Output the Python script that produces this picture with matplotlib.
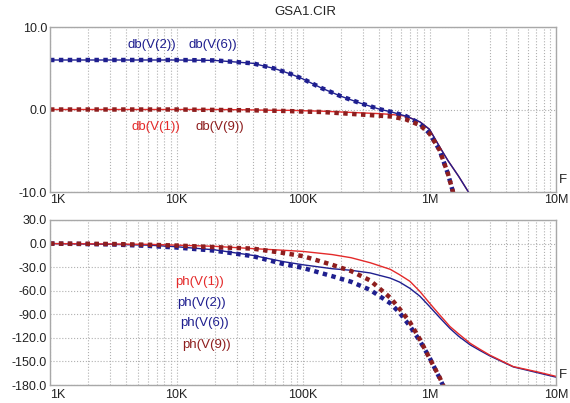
#!/usr/bin/env python3
import matplotlib
matplotlib.use("Agg")
import matplotlib.pyplot as plt
from matplotlib.ticker import LogLocator, NullFormatter

FONT = "Liberation Sans"
NAVY = "#1f1f8f"
RED = "#e42a2a"
MAROON = "#8e1e1e"
GRID = "#b0b0b0"

# magnitude plot (dB)
freq_db = [1e3, 3e3, 1e4, 2e4, 4e4, 6e4, 8e4, 1e5, 1.4e5, 2e5, 2.8e5,
           4e5, 5e5, 6.5e5, 8.4e5, 1e6, 1.2e6, 1.4e6, 1.7e6, 2.05e6, 2.5e6]
db_v1 = [0, 0, 0, 0, -0.05, -0.1, -0.1, -0.15, -0.2, -0.3, -0.4,
         -0.5, -0.6, -0.8, -1.5, -2.4, -4.5, -6.2, -8.1, -10.1, -12.3]
db_v2 = [6.0, 6.0, 6.0, 5.95, 5.6, 4.95, 4.3, 3.7, 2.6, 1.6, 0.8,
         0.05, -0.3, -0.8, -1.7, -2.9, -4.9, -7.8, -12.5, -17, -22]
db_v6 = [6.0, 6.0, 6.0, 5.95, 5.6, 4.95, 4.3, 3.7, 2.6, 1.6, 0.8,
         0.05, -0.3, -0.8, -1.5, -2.4, -4.5, -6.2, -8.1, -10.1, -12.3]
db_v9 = [0, 0, 0, -0.05, -0.1, -0.15, -0.2, -0.25, -0.3, -0.45, -0.6,
         -0.75, -0.85, -1.2, -1.9, -2.9, -4.9, -7.8, -12.5, -17, -22]

# phase plot (degrees)
freq_ph = [1e3, 3e3, 6e3, 1e4, 2e4, 4e4, 7e4, 1e5, 1.7e5, 2.4e5, 3.4e5,
           4.9e5, 5.8e5, 7e5, 8.4e5, 1e6, 1.2e6, 1.45e6, 1.7e6, 2.1e6,
           2.5e6, 3e6, 4.6e6, 7e6, 1e7]
ph_v1 = [0, -0.5, -1, -2, -3.5, -6.4, -8.5, -10, -14, -18, -24.4,
         -32.8, -39.6, -48, -61, -75.7, -90.5, -105.5, -115, -127,
         -134.5, -142, -156.6, -163, -169]
ph_v2 = [0, -1, -3, -5, -9, -16, -26, -31, -41.5, -48.6, -59,
         -76, -88, -105, -124, -145, -171, -200, -230, -260,
         -280, -290, -300, -310, -320]
ph_v6 = [0, -1, -2, -4, -8, -15, -23, -27, -32, -34, -37.4,
         -44, -49, -57, -67, -80, -94, -108, -118, -129,
         -136, -143, -157, -164, -170]
ph_v9 = [0, -0.5, -1.5, -2.5, -4.5, -6.4, -12, -16, -27, -35, -47,
         -69, -83, -100, -122, -146, -170, -200, -230, -260,
         -280, -290, -300, -310, -320]

xtick_vals = [1e3, 1e4, 1e5, 1e6, 1e7]
xtick_labels = ["1K", "10K", "100K", "1M", "10M"]
db_ticks = [10, 0, -10]
db_labels = ["10.0", "0.0", "-10.0"]
ph_ticks = [30, 0, -30, -60, -90, -120, -150, -180]
ph_labels = ["30.0", "0.0", "-30.0", "-60.0", "-90.0", "-120.0",
             "-150.0", "-180.0"]

W, H = 570, 403


def fx(px):
    return px / W


def fy(py):
    return 1 - py / H


def setup_axis(ax, yticks, ylabels, ylim, xpad):
    ax.set_xscale("log")
    ax.set_xlim(1e3, 1e7)
    ax.set_ylim(*ylim)
    ax.xaxis.set_minor_locator(LogLocator(base=10, subs=range(2, 10)))
    ax.xaxis.set_minor_formatter(NullFormatter())
    ax.set_xticks(xtick_vals)
    ax.set_xticklabels(xtick_labels, fontfamily=FONT, fontsize=9)
    ax.get_xticklabels()[0].set_ha("left")
    ax.set_yticks(yticks)
    ax.set_yticklabels(ylabels, fontfamily=FONT, fontsize=9)
    ax.tick_params(which="both", length=0, colors="#222222")
    ax.tick_params(axis="x", pad=xpad)
    ax.tick_params(axis="y", pad=2)
    ax.grid(True, which="both", axis="x", ls=":", color=GRID, lw=0.8)
    ax.grid(True, which="major", axis="y", ls=":", color=GRID, lw=0.8)
    for sp in ax.spines.values():
        sp.set_color("#a8a8a8")
        sp.set_linewidth(1.0)


def draw(ax, f, solid_b, solid_r, dot_b, dot_r, red_first):
    dots = dict(lw=3.2, dashes=(1.0, 1.0), dash_capstyle="butt")
    if red_first:
        ax.plot(f, solid_r, color=RED, lw=1.0)
        ax.plot(f, solid_b, color=NAVY, lw=1.0)
    else:
        ax.plot(f, solid_b, color=NAVY, lw=1.0)
        ax.plot(f, solid_r, color=RED, lw=1.0)
    ax.plot(f, dot_b, color=NAVY, **dots)
    ax.plot(f, dot_r, color=MAROON, **dots)


def main():
    fig = plt.figure(figsize=(W / 100, H / 100), dpi=100)
    ax1 = fig.add_axes([fx(50), fy(192), fx(506), (192 - 27) / H])
    ax2 = fig.add_axes([fx(50), fy(385), fx(506), (385 - 220) / H])

    setup_axis(ax1, db_ticks, db_labels, (-10, 10), 1.5)
    setup_axis(ax2, ph_ticks, ph_labels, (-180, 30), 3)

    draw(ax1, freq_db, db_v6, db_v1, db_v2, db_v9, True)
    draw(ax2, freq_ph, ph_v6, ph_v1, ph_v2, ph_v9, False)

    txt = dict(fontfamily=FONT, fontsize=9.5, va="center")
    fig.text(fx(305), fy(12), "GSA1.CIR", ha="center", color="#222222", **txt)
    fig.text(fx(127), fy(45), "db(V(2))", color=NAVY, **txt)
    fig.text(fx(188), fy(45), "db(V(6))", color=NAVY, **txt)
    fig.text(fx(132), fy(127), "db(V(1))", color=RED, **txt)
    fig.text(fx(195), fy(127), "db(V(9))", color=MAROON, **txt)
    fig.text(fx(175), fy(282), "ph(V(1))", color=RED, **txt)
    fig.text(fx(177), fy(303), "ph(V(2))", color=NAVY, **txt)
    fig.text(fx(180), fy(323), "ph(V(6))", color=NAVY, **txt)
    fig.text(fx(182), fy(345), "ph(V(9))", color=MAROON, **txt)
    fig.text(fx(559), fy(180), "F", color="#222222", **txt)
    fig.text(fx(559), fy(375), "F", color="#222222", **txt)

    fig.savefig("out.png", dpi=100, facecolor="white")


if __name__ == "__main__":
    main()
